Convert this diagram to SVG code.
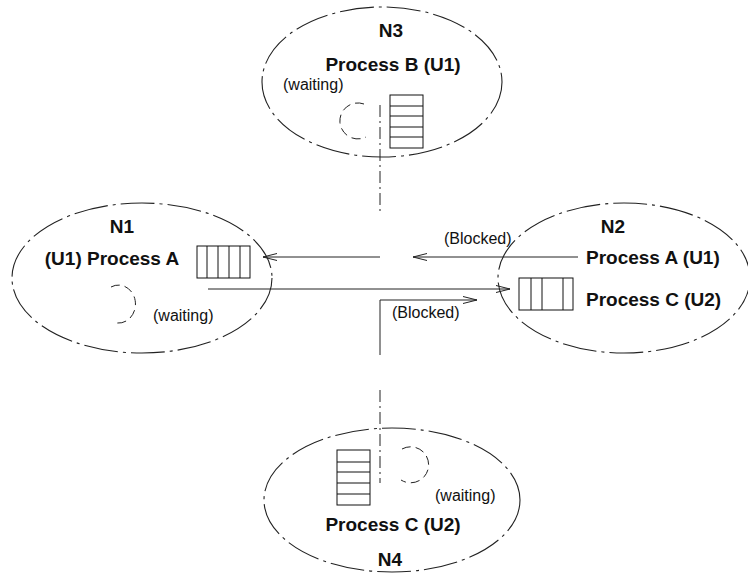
<svg xmlns="http://www.w3.org/2000/svg" width="748" height="577" viewBox="0 0 748 577">
<style>
.ell{fill:none;stroke:#222;stroke-width:1.1;stroke-dasharray:34 5 3 5}
.q{fill:none;stroke:#111;stroke-width:1}
.loop{fill:none;stroke:#222;stroke-width:1;stroke-dasharray:9 5}
.b{font-family:"Liberation Sans",Arial,sans-serif;font-weight:bold;font-size:19px;fill:#111}
.n{font-family:"Liberation Sans",Arial,sans-serif;font-size:16px;fill:#111}
.c{fill:none;stroke:#222;stroke-width:1}
.dd{fill:none;stroke:#222;stroke-width:1;stroke-dasharray:12 4 2 4}
</style>
<defs>
<marker id="ah" viewBox="0 0 14 8" refX="14" refY="4" markerWidth="14" markerHeight="8" markerUnits="userSpaceOnUse" orient="auto">
<path d="M0,0.5 L14,4 L0,7.5" fill="none" stroke="#222" stroke-width="1"/>
</marker>
</defs>
<rect width="748" height="577" fill="#fff"/>

<g id="N3">
<ellipse class="ell" cx="382" cy="82" rx="120" ry="75"/>
<text class="b" x="391" y="37" text-anchor="middle">N3</text>
<text class="b" x="393" y="71" text-anchor="middle">Process B (U1)</text>
<text class="n" x="283" y="90">(waiting)</text>
<rect class="q" x="390" y="95" width="33" height="53"/>
<path class="q" d="M390,106H423M390,116H423M390,127H423M390,137H423"/>
<path class="loop" d="M364,104 A18,18 0 1 0 366,137"/>
</g>

<g id="N1">
<ellipse class="ell" cx="142" cy="278" rx="130" ry="75"/>
<text class="b" x="122" y="233" text-anchor="middle">N1</text>
<text class="b" x="112" y="265" text-anchor="middle">(U1) Process A</text>
<rect class="q" x="197" y="246" width="53" height="32"/>
<path class="q" d="M207,246V278M218,246V278M229,246V278M240,246V278"/>
<path class="loop" d="M111,287 A17,19 0 1 1 117,323"/>
<text class="n" x="153" y="321">(waiting)</text>
</g>

<g id="N2">
<ellipse class="ell" cx="624" cy="278" rx="126" ry="75"/>
<text class="b" x="613" y="233" text-anchor="middle">N2</text>
<text class="b" x="586" y="264">Process A (U1)</text>
<text class="b" x="586" y="306">Process C (U2)</text>
<rect class="q" x="519" y="278" width="54" height="32"/>
<path class="q" d="M531,278V310M542,278V310M563,278V310"/>
</g>

<g id="N4">
<ellipse class="ell" cx="392" cy="500" rx="128" ry="72"/>
<rect class="q" x="337" y="450" width="33" height="55"/>
<path class="q" d="M337,462H370M337,472H370M337,483H370M337,494H370"/>
<path class="loop" d="M402,449 A18,18 0 1 1 401,480"/>
<text class="n" x="435" y="501">(waiting)</text>
<text class="b" x="393" y="531" text-anchor="middle">Process C (U2)</text>
<text class="b" x="390" y="566" text-anchor="middle">N4</text>
</g>

<g id="connectors">
<line class="c" x1="380" y1="257" x2="263" y2="257" marker-end="url(#ah)"/>
<line class="c" x1="578" y1="257" x2="413" y2="257" marker-end="url(#ah)"/>
<line class="c" x1="208" y1="289" x2="510" y2="289" marker-end="url(#ah)"/>
<path class="c" d="M380,355 V300 H477" marker-end="url(#ah)"/>
<line class="dd" x1="380" y1="105" x2="380" y2="215"/>
<line class="dd" x1="380" y1="390" x2="380" y2="483"/>
<text class="n" x="444" y="244">(Blocked)</text>
<text class="n" x="392" y="318">(Blocked)</text>
</g>
</svg>
